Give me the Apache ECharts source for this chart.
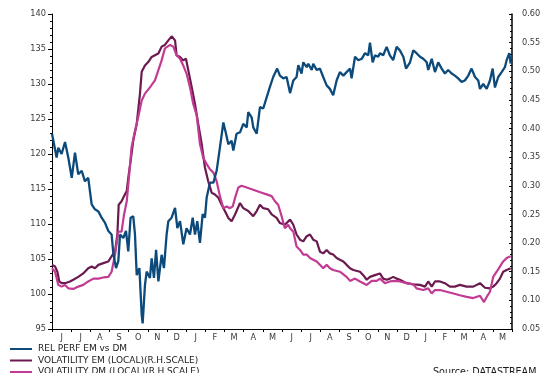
<!DOCTYPE html>
<html>
<head>
<meta charset="utf-8">
<script src="https://cdn.jsdelivr.net/npm/echarts@6/dist/echarts.min.js"></script>
<style>html,body{margin:0;padding:0;background:#fff}#c{width:546px;height:373px}</style>
</head>
<body>
<div id="c"></div>
<script>
const monthLabels = ['J','J','A','S','O','N','D','J','F','M','A','M','J','J','A','S','O','N','D','J','F','M','A','M'];
const seriesNames = ['REL PERF EM vs DM','VOLATILITY EM (LOCAL)(R.H.SCALE)','VOLATILITY DM (LOCAL)(R.H.SCALE)'];

// time in months from start of first June
const blueT = [0,0.24,0.33,0.5,0.68,0.85,1.03,1.2,1.37,1.55,1.72,1.89,2.07,2.24,2.42,2.59,2.76,2.94,3.11,3.2,3.34,3.46,3.55,3.72,3.86,3.98,4.1,4.24,4.33,4.42,4.56,4.68,4.73,4.85,4.94,5.11,5.2,5.32,5.43,5.55,5.72,5.84,5.98,6.07,6.24,6.42,6.54,6.68,6.85,7.02,7.2,7.34,7.46,7.58,7.72,7.86,7.98,8.07,8.24,8.42,8.59,8.76,8.94,9.08,9.2,9.37,9.46,9.63,9.81,9.98,10.16,10.24,10.42,10.5,10.68,10.85,11.02,11.2,11.37,11.54,11.75,11.89,12.07,12.24,12.42,12.59,12.76,12.85,13.02,13.11,13.29,13.37,13.55,13.63,13.81,13.98,14.15,14.33,14.5,14.67,14.85,15.02,15.2,15.37,15.55,15.63,15.81,15.98,16.16,16.33,16.5,16.59,16.73,16.85,17.02,17.11,17.28,17.46,17.63,17.8,17.98,18.15,18.33,18.47,18.68,18.85,19.02,19.2,19.37,19.55,19.63,19.81,19.98,20.15,20.33,20.5,20.67,20.85,21.02,21.19,21.37,21.54,21.72,21.89,22.07,22.24,22.33,22.5,22.68,22.85,22.99,23.11,23.28,23.46,23.63,23.72,23.86,23.93];
const blueV = [122.9,119.5,120.9,120.0,121.7,119.5,116.6,120.2,117.1,117.6,116.1,116.6,112.8,112.1,111.8,110.9,110.2,109.0,108.5,105.8,103.7,104.7,108.5,108.0,109.0,106.1,110.9,111.1,108.5,102.7,103.7,97.0,95.8,101.3,103.2,102.3,105.1,102.3,106.3,101.8,105.6,103.7,108.5,110.4,110.9,112.3,109.4,110.4,107.1,109.4,108.5,110.9,108.5,110.4,107.3,111.4,110.9,113.8,115.9,115.9,117.6,120.9,124.5,122.9,121.4,121.9,120.5,122.9,123.1,124.3,123.8,126.0,125.2,123.8,122.9,126.7,126.5,128.1,129.6,131.0,132.2,131.2,130.8,131.0,128.7,130.5,131.0,132.7,131.5,133.1,132.4,132.9,132.0,132.9,132.0,132.2,131.0,129.8,129.3,128.4,130.5,131.7,131.2,131.7,132.2,130.8,133.9,133.4,133.6,134.4,134.1,135.9,133.1,134.1,133.9,134.4,134.1,135.3,134.1,133.4,135.3,134.8,133.9,132.2,133.1,134.8,134.4,133.9,133.6,133.1,132.0,133.6,131.7,133.1,132.2,131.5,132.0,131.5,131.2,130.8,130.3,130.5,131.2,132.2,131.0,130.5,129.3,130.0,129.3,130.5,132.2,129.5,131.0,131.7,132.4,133.4,134.4,132.9];

const emT = [0,0.16,0.28,0.38,0.5,0.68,0.94,1.11,1.37,1.63,1.89,2.07,2.24,2.42,2.68,2.94,3.11,3.29,3.41,3.48,3.63,3.76,3.9,3.98,4.1,4.24,4.42,4.59,4.68,4.85,5.02,5.2,5.37,5.55,5.72,5.89,6.07,6.24,6.42,6.5,6.68,6.85,6.99,7.11,7.29,7.46,7.63,7.81,7.98,8.15,8.33,8.5,8.68,8.85,9.02,9.2,9.37,9.55,9.81,9.98,10.24,10.5,10.68,10.85,11.02,11.28,11.46,11.72,11.89,12.15,12.42,12.59,12.76,12.94,13.11,13.29,13.46,13.63,13.81,13.98,14.15,14.33,14.5,14.67,14.85,15.02,15.2,15.37,15.55,15.72,16.07,16.24,16.42,16.59,16.85,17.11,17.28,17.46,17.63,17.8,17.98,18.15,18.5,18.85,19.2,19.46,19.63,19.81,19.98,20.24,20.5,20.76,21.02,21.28,21.63,21.98,22.33,22.59,22.85,23.02,23.2,23.37,23.54,23.72,23.93];
const emV = [0.162,0.159,0.150,0.133,0.130,0.130,0.133,0.136,0.141,0.147,0.156,0.159,0.156,0.162,0.165,0.168,0.177,0.185,0.215,0.267,0.273,0.282,0.291,0.314,0.343,0.379,0.408,0.461,0.499,0.510,0.516,0.525,0.528,0.531,0.543,0.546,0.554,0.561,0.554,0.528,0.525,0.519,0.522,0.502,0.472,0.443,0.408,0.373,0.332,0.308,0.288,0.285,0.279,0.267,0.256,0.244,0.238,0.250,0.270,0.261,0.256,0.247,0.256,0.267,0.261,0.259,0.250,0.244,0.235,0.232,0.241,0.232,0.215,0.206,0.203,0.212,0.215,0.206,0.203,0.185,0.182,0.188,0.182,0.180,0.174,0.171,0.168,0.162,0.156,0.153,0.150,0.144,0.136,0.141,0.144,0.147,0.138,0.136,0.138,0.141,0.138,0.136,0.130,0.128,0.127,0.124,0.133,0.124,0.133,0.133,0.130,0.124,0.124,0.127,0.124,0.124,0.130,0.122,0.121,0.124,0.130,0.138,0.150,0.153,0.156];

const dmT = [0,0.16,0.33,0.5,0.68,0.85,1.11,1.37,1.63,1.89,2.16,2.42,2.68,2.94,3.11,3.29,3.46,3.63,3.76,3.9,4.03,4.15,4.33,4.5,4.68,4.85,5.11,5.37,5.55,5.72,5.89,6.16,6.33,6.5,6.68,6.85,7.02,7.2,7.37,7.55,7.72,7.89,8.07,8.24,8.42,8.59,8.76,8.94,9.11,9.29,9.43,9.55,9.72,9.89,10.16,10.42,10.68,10.94,11.2,11.46,11.63,11.8,11.98,12.15,12.33,12.42,12.59,12.76,12.94,13.11,13.29,13.46,13.63,13.81,13.98,14.15,14.33,14.5,14.67,15.02,15.37,15.55,15.81,16.07,16.42,16.68,16.94,17.11,17.37,17.63,17.89,18.15,18.5,18.85,19.02,19.37,19.63,19.81,19.98,20.24,20.59,20.94,21.28,21.63,21.98,22.33,22.54,22.68,22.85,23.02,23.2,23.37,23.54,23.72,23.93];
const dmV = [0.156,0.150,0.127,0.124,0.127,0.121,0.120,0.124,0.127,0.133,0.138,0.138,0.140,0.141,0.150,0.180,0.220,0.220,0.250,0.273,0.320,0.367,0.396,0.420,0.449,0.461,0.472,0.484,0.502,0.519,0.540,0.546,0.543,0.528,0.522,0.510,0.496,0.472,0.443,0.423,0.373,0.349,0.338,0.329,0.323,0.308,0.282,0.261,0.264,0.261,0.264,0.279,0.297,0.300,0.297,0.294,0.291,0.288,0.285,0.282,0.273,0.267,0.247,0.226,0.232,0.226,0.220,0.194,0.188,0.180,0.180,0.174,0.171,0.168,0.162,0.156,0.162,0.156,0.153,0.150,0.141,0.134,0.138,0.133,0.127,0.134,0.134,0.138,0.130,0.133,0.134,0.133,0.130,0.128,0.121,0.118,0.121,0.112,0.118,0.118,0.115,0.112,0.109,0.106,0.104,0.108,0.097,0.106,0.115,0.141,0.150,0.159,0.168,0.174,0.177];

const seriesColors = ['#0b4a7a', '#6b1a4f', '#c23b93'];

function zip(t, v){ const n = Math.min(t.length, v.length); const out=[]; for(let i=0;i<n;i++) out.push([t[i], v[i]]); return out; }

const FONT = 'DejaVu Sans';
const labelColor = '#3a3a3a';

// custom legend (rows at fixed spacing, bottom row runs off the canvas as in the original)
const legendGraphics = [];
seriesNames.forEach((name, i) => {
  const cy = 349 + i * 11.5;
  legendGraphics.push({type: 'line', shape: {x1: 10, y1: cy, x2: 32, y2: cy},
    style: {stroke: seriesColors[i], lineWidth: 2}});
  legendGraphics.push({type: 'text', x: 38, y: cy, style: {text: name, font: '9px "DejaVu Sans"',
    fill: '#1a1a1a', textVerticalAlign: 'middle', verticalAlign: 'middle'}});
});
legendGraphics.push({type: 'text', x: 433, y: 372, style: {text: 'Source: DATASTREAM', font: '9.6px "DejaVu Sans"',
  fill: '#1a1a1a', textVerticalAlign: 'middle', verticalAlign: 'middle'}});

const chart = echarts.init(document.getElementById('c'), null, {renderer:'canvas'});
chart.setOption({
  animation: false,
  backgroundColor: '#fff',
  grid: {left: 52, right: 34, top: 14, bottom: 44, containLabel: false},
  xAxis: [
    {type: 'category', data: monthLabels, boundaryGap: true, gridIndex: 0,
     axisLine: {show: true, lineStyle: {color: '#000', width: 1}},
     axisTick: {show: true, interval: 0, length: 3, lineStyle: {color: '#000'}},
     axisLabel: {interval: 0, margin: 5, fontFamily: FONT, fontSize: 8.2, color: labelColor},
     splitLine: {show: false}},
    {type: 'value', min: 0, max: 24, show: false, gridIndex: 0}
  ],
  yAxis: [
    {type: 'value', min: 95, max: 140, interval: 5, position: 'left',
     axisLine: {show: true, lineStyle: {color: '#000', width: 1}},
     axisTick: {show: true, length: 4, lineStyle: {color: '#000'}},
     minorTick: {show: true, splitNumber: 5, length: 2, lineStyle: {color: '#000'}},
     axisLabel: {margin: 6, fontFamily: FONT, fontSize: 8.2, color: labelColor},
     splitLine: {show: false}},
    {type: 'value', min: 0.05, max: 0.60, interval: 0.05, position: 'right',
     axisLine: {show: true, lineStyle: {color: '#000', width: 1.5}},
     axisTick: {show: true, inside: true, length: 3, lineStyle: {color: '#000'}},
     minorTick: {show: true, splitNumber: 5, length: 2, lineStyle: {color: '#000'}},
     axisLabel: {margin: 10, fontFamily: FONT, fontSize: 8.2, color: labelColor,
       formatter: v => v.toFixed(2)},
     splitLine: {show: false}}
  ],
  series: [
    {name: seriesNames[0], type: 'line', xAxisIndex: 1, yAxisIndex: 0, showSymbol: false, symbol: 'none',
     data: zip(blueT, blueV), lineStyle: {color: seriesColors[0], width: 2.3}, itemStyle: {color: seriesColors[0]}, z: 3},
    {name: seriesNames[1], type: 'line', xAxisIndex: 1, yAxisIndex: 1, showSymbol: false, symbol: 'none',
     data: zip(emT, emV), lineStyle: {color: seriesColors[1], width: 2.2}, itemStyle: {color: seriesColors[1]}, z: 2},
    {name: seriesNames[2], type: 'line', xAxisIndex: 1, yAxisIndex: 1, showSymbol: false, symbol: 'none',
     data: zip(dmT, dmV), lineStyle: {color: seriesColors[2], width: 2.2}, itemStyle: {color: seriesColors[2]}, z: 2}
  ],
  graphic: legendGraphics
});
</script>
</body>
</html>
